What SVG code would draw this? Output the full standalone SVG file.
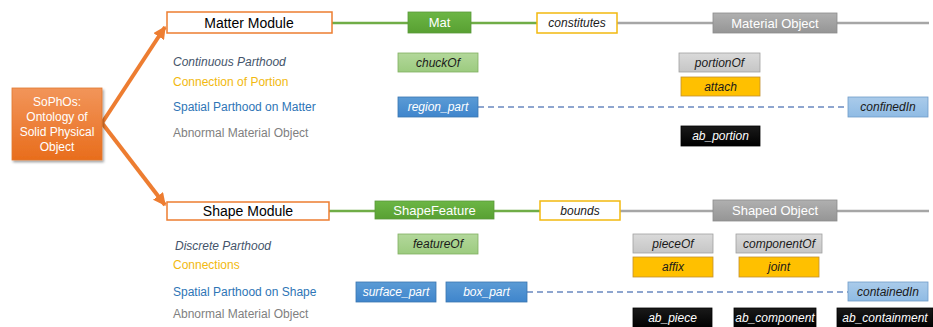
<svg xmlns="http://www.w3.org/2000/svg" width="933" height="327" viewBox="0 0 933 327">
<defs>
<linearGradient id="gOrange" x1="0" y1="0" x2="0" y2="1"><stop offset="0" stop-color="#f2955a"/><stop offset="1" stop-color="#e86d1c"/></linearGradient>
<linearGradient id="gGreen" x1="0" y1="0" x2="0" y2="1"><stop offset="0" stop-color="#6cb645"/><stop offset="1" stop-color="#58a032"/></linearGradient>
<linearGradient id="gGray" x1="0" y1="0" x2="0" y2="1"><stop offset="0" stop-color="#b0b0b0"/><stop offset="1" stop-color="#959595"/></linearGradient>
<linearGradient id="gLGray" x1="0" y1="0" x2="0" y2="1"><stop offset="0" stop-color="#dadada"/><stop offset="1" stop-color="#c6c6c6"/></linearGradient>
<linearGradient id="gBlue" x1="0" y1="0" x2="0" y2="1"><stop offset="0" stop-color="#5b9bd5"/><stop offset="1" stop-color="#3f85cc"/></linearGradient>
<linearGradient id="gLBlue" x1="0" y1="0" x2="0" y2="1"><stop offset="0" stop-color="#aacbea"/><stop offset="1" stop-color="#8fbbe4"/></linearGradient>
<linearGradient id="gLGreen" x1="0" y1="0" x2="0" y2="1"><stop offset="0" stop-color="#b3d89b"/><stop offset="1" stop-color="#9ccb7f"/></linearGradient>
<linearGradient id="gBlack" x1="0" y1="0" x2="0" y2="1"><stop offset="0" stop-color="#1a1a1a"/><stop offset="1" stop-color="#000"/></linearGradient>
<marker id="arr" viewBox="0 0 10 10" refX="9" refY="5" markerWidth="3.2" markerHeight="3.2" orient="auto" markerUnits="strokeWidth"><path d="M0,0 L10,5 L0,10 Z" fill="#ed7d31"/></marker>
<filter id="sh" x="-10%" y="-10%" width="130%" height="130%"><feDropShadow dx="1.5" dy="2" stdDeviation="1.2" flood-color="#000" flood-opacity="0.35"/></filter>
</defs>
<style>
text{font-family:"Liberation Sans",Arial,sans-serif;font-size:12px}
.c{text-anchor:middle}
.it{font-style:italic}
.w{fill:#fff}
.k{fill:#1a1a1a}
.mod{fill:#fff;stroke:#ed7d31;stroke-width:1.5}
.modt{font-size:14px;fill:#000;text-anchor:middle}
.green{fill:url(#gGreen);stroke:#5a9a3a;stroke-width:0.8}
.gray{fill:url(#gGray);stroke:#8c8c8c;stroke-width:0.8}
.rel{fill:#fff;stroke:#f2b90f;stroke-width:1.5}
.lgreen{fill:url(#gLGreen);stroke:#80b060;stroke-width:0.8}
.lgray{fill:url(#gLGray);stroke:#a0a0a0;stroke-width:0.8}
.yel{fill:#ffc000;stroke:#c09030;stroke-width:0.8}
.blue{fill:url(#gBlue);stroke:#3a75b0;stroke-width:0.8}
.lblue{fill:url(#gLBlue);stroke:#6f9cc8;stroke-width:0.8}
.blk{fill:url(#gBlack);stroke:#000;stroke-width:0.8}
.lab1{fill:#44546a;font-style:italic}
.lab2{fill:#f2b90f}
.lab3{fill:#2e75b6}
.lab4{fill:#7f7f7f}
</style>

<g id="connectors">
<line x1="102" y1="123" x2="165" y2="27" stroke="#ed7d31" stroke-width="4" marker-end="url(#arr)"/>
<line x1="102" y1="123" x2="165" y2="205" stroke="#ed7d31" stroke-width="4" marker-end="url(#arr)"/>
<line x1="332" y1="23" x2="408" y2="23" stroke="#70ad47" stroke-width="2.5"/>
<line x1="471" y1="23" x2="537" y2="23" stroke="#70ad47" stroke-width="2.5"/>
<line x1="617" y1="23" x2="713" y2="23" stroke="#a6a6a6" stroke-width="2.5"/>
<line x1="837" y1="23" x2="929" y2="23" stroke="#a6a6a6" stroke-width="2.5"/>
<line x1="329" y1="211" x2="375" y2="211" stroke="#70ad47" stroke-width="2.5"/>
<line x1="494" y1="211" x2="540" y2="211" stroke="#70ad47" stroke-width="2.5"/>
<line x1="620" y1="211" x2="713" y2="211" stroke="#a6a6a6" stroke-width="2.5"/>
<line x1="837" y1="211" x2="929" y2="211" stroke="#a6a6a6" stroke-width="2.5"/>
<line x1="478" y1="107" x2="848" y2="107" stroke="#6a89c0" stroke-width="1.5" stroke-dasharray="6,4"/>
<line x1="527" y1="292" x2="848" y2="292" stroke="#6a89c0" stroke-width="1.5" stroke-dasharray="6,4"/>
</g>

<g id="sophos"><rect x="12" y="88" width="90" height="72" fill="url(#gOrange)" stroke="#e0792f" stroke-width="0.8" filter="url(#sh)"/>
<text class="c w" x="57" y="106">SoPhOs:</text><text class="c w" x="57" y="121">Ontology of</text><text class="c w" x="57" y="136">Solid Physical</text><text class="c w" x="57" y="151">Object</text></g>

<g id="matter-module"><rect class="mod" x="167" y="12" width="165" height="21"/><text class="modt" x="249" y="28">Matter Module</text></g>
<g id="mat"><rect class="green" x="408" y="12" width="63" height="21"/><text class="c w" x="439.5" y="27" style="font-size:13px">Mat</text></g>
<g id="constitutes"><rect class="rel" x="537" y="13" width="80" height="20"/><text class="c k it" x="577" y="27">constitutes</text></g>
<g id="material-object"><rect class="gray" x="713" y="13" width="124" height="20"/><text class="c w" x="775" y="28" style="font-size:13px">Material Object</text></g>

<g id="labels-matter">
<text class="lab1" x="173" y="66">Continuous Parthood</text>
<text class="lab2" x="173" y="86">Connection of Portion</text>
<text class="lab3" x="173" y="111">Spatial Parthood on Matter</text>
<text class="lab4" x="173" y="137">Abnormal Material Object</text>
</g>

<g id="chuckOf"><rect class="lgreen" x="398" y="53" width="80" height="19"/><text class="c k it" x="438" y="67">chuckOf</text></g>
<g id="region_part"><rect class="blue" x="398" y="97" width="80" height="20"/><text class="c w it" x="438" y="111">region_part</text></g>
<g id="portionOf"><rect class="lgray" x="679" y="53" width="81" height="19"/><text class="c k it" x="719.5" y="67">portionOf</text></g>
<g id="attach"><rect class="yel" x="681" y="77" width="79" height="19"/><text class="c k it" x="720.5" y="91">attach</text></g>
<g id="confinedIn"><rect class="lblue" x="848" y="97" width="80" height="20"/><text class="c k it" x="888" y="111">confinedIn</text></g>
<g id="ab_portion"><rect class="blk" x="681" y="126" width="79" height="20"/><text class="c w it" x="720.5" y="140">ab_portion</text></g>

<g id="shape-module"><rect class="mod" x="167" y="202" width="162" height="18"/><text class="modt" x="248" y="216">Shape Module</text></g>
<g id="shapefeature"><rect class="green" x="375" y="201" width="119" height="18"/><text class="c w" x="434.5" y="215" style="font-size:13px">ShapeFeature</text></g>
<g id="bounds"><rect class="rel" x="540" y="201" width="80" height="19"/><text class="c k it" x="580" y="215">bounds</text></g>
<g id="shaped-object"><rect class="gray" x="713" y="200" width="124" height="21"/><text class="c w" x="775" y="215" style="font-size:13px">Shaped Object</text></g>

<g id="labels-shape">
<text class="lab1" x="175" y="250">Discrete Parthood</text>
<text class="lab2" x="173" y="269">Connections</text>
<text class="lab3" x="173" y="296">Spatial Parthood on Shape</text>
<text class="lab4" x="173" y="318">Abnormal Material Object</text>
</g>

<g id="featureOf"><rect class="lgreen" x="398" y="234" width="80" height="20"/><text class="c k it" x="438" y="248">featureOf</text></g>
<g id="surface_part"><rect class="blue" x="356" y="282" width="80" height="20"/><text class="c w it" x="396" y="296">surface_part</text></g>
<g id="box_part"><rect class="blue" x="446" y="282" width="81" height="20"/><text class="c w it" x="486.5" y="296">box_part</text></g>
<g id="pieceOf"><rect class="lgray" x="633" y="234" width="80" height="19"/><text class="c k it" x="673" y="248">pieceOf</text></g>
<g id="componentOf"><rect class="lgray" x="736" y="234" width="86" height="19"/><text class="c k it" x="779" y="248">componentOf</text></g>
<g id="affix"><rect class="yel" x="633" y="257" width="80" height="20"/><text class="c k it" x="673" y="271">affix</text></g>
<g id="joint"><rect class="yel" x="739" y="257" width="80" height="20"/><text class="c k it" x="779" y="271">joint</text></g>
<g id="containedIn"><rect class="lblue" x="848" y="282" width="80" height="19"/><text class="c k it" x="888" y="296">containedIn</text></g>
<g id="ab_piece"><rect class="blk" x="633" y="308" width="79" height="20"/><text class="c w it" x="672.5" y="322">ab_piece</text></g>
<g id="ab_component"><rect class="blk" x="734" y="308" width="82" height="20"/><text class="c w it" x="775" y="322">ab_component</text></g>
<g id="ab_containment"><rect class="blk" x="837" y="308" width="96" height="20"/><text class="c w it" x="885" y="322">ab_containment</text></g>
</svg>
